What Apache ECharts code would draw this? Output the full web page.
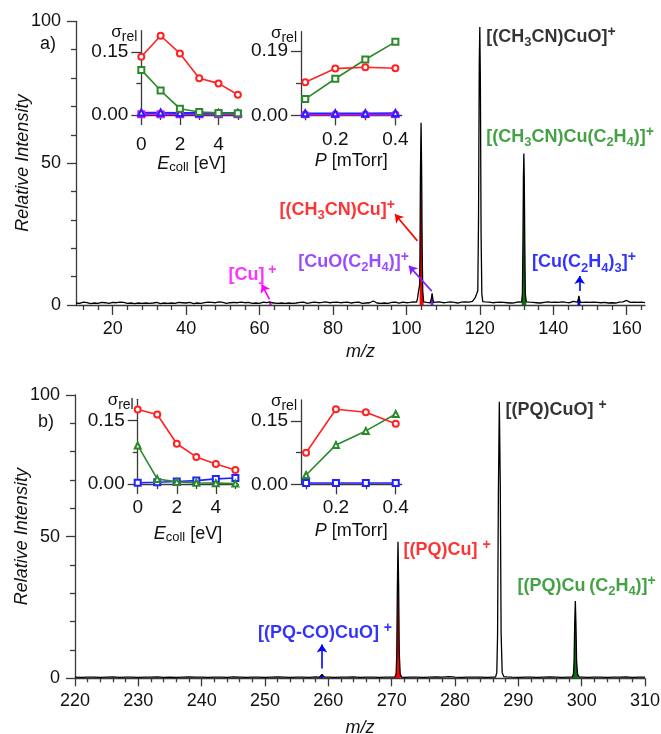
<!DOCTYPE html>
<html><head><meta charset="utf-8">
<script src="https://cdn.jsdelivr.net/npm/echarts@6/dist/echarts.min.js"></script>
<style>html,body{margin:0;padding:0;background:#fff}#c{width:661px;height:734px}</style>
</head><body><div id="c"></div>
<script>
// ================= DATA =================
// Panel a) spectrum: baseline sampled every 0.5 m/z from m/z 10
const baseStartA = 10, baseStepA = 0.5;
const baselineA = [
0.7,0.9,0.6,0.8,1.0,0.6,0.8,0.9,0.5,0.8,
0.7,1.0,0.6,0.7,0.9,0.6,0.8,1.1,0.6,0.7,
0.9,0.5,0.8,0.7,1.0,0.6,0.9,0.7,0.6,1.0,
0.7,0.8,0.5,0.9,0.7,1.1,0.6,0.8,0.7,0.9,
0.6,1.0,0.7,0.6,0.9,0.8,0.5,0.9,0.7,1.0,
0.6,0.8,0.7,1.1,0.6,0.7,0.9,0.6,0.8,1.0,
0.7,0.6,0.9,0.8,0.5,1.0,0.7,0.8,0.6,0.9,
0.8,0.6,1.0,0.7,0.9,0.5,0.8,0.7,1.1,0.6,
0.9,0.7,0.6,1.0,0.8,0.6,0.9,0.7,0.8,0.5,
1.0,0.7,0.8,0.6,0.9,1.1,0.6,0.8,0.7,0.9,
0.6,0.8,1.0,0.7,0.8,0.9,1.3,0.8,0.7,0.9,
0.6,0.8,0.7,1.0,0.6,0.9,0.7,0.8,0.6,1.0,
0.7,0.8,0.9,0.6,1.0,0.7,0.6,0.9,0.8,0.7,
1.0,0.6,0.8,0.7,0.9,0.6,1.1,0.7,0.8,0.6,
0.9,0.7,1.0,0.6,0.8,0.7,0.9,0.6,1.0,0.8,
0.7,0.6,0.9,0.8,1.0,0.7,0.6,0.9,0.7,1.1,
0.8,1.0,1.4,0.9,0.7,0.8,0.6,0.9,0.7,1.0,
0.6,0.8,0.9,0.7,1.0,0.8,0.7,0.9,1.0,1.1,
0.8,1.0,0.9,1.2,1.1,1.0,0.9,0.9,0.9,0.9,
1.0,0.9,1.1,0.8,1.0,0.9,1.0,0.8,1.1,0.9,
0.8,1.0,0.9,0.7,1.1,0.8,0.9,1.0,0.7,0.9,
1.0,0.8,1.1,0.9,1.0,1.2,1.3,1.5,1.0,1.0,
1.0,1.0,0.9,1.1,0.8,1.0,0.9,0.8,1.1,0.9,
0.8,1.0,0.7,0.9,1.1,0.8,0.9,0.7,1.0,0.8,
0.9,1.1,1.0,1.0,1.0,1.0,0.9,1.0,0.8,0.9,
1.0,0.8,0.9,0.7,1.0,0.9,0.8,1.1,0.7,0.9,
0.8,1.0,0.7,0.9,0.8,1.1,0.7,0.9,1.0,0.8,
1.2,1.3,0.9,1.0,1.0,1.0,0.9,0.8,1.0,0.7,
0.9,0.8,1.0,0.7,0.9,1.1,0.8,0.7,0.9,1.0,
0.7,0.9,0.8,1.0,0.7,0.9,1.0,0.8,1.1,0.9,
1.6,1.2,0.9,0.8,1.0,0.7,0.9,0.8,1.0,0.7,
0.8];
// Panel a) peaks [m/z, relative intensity]
const peakCu63   = [[62.6,0.8],[62.85,1.1],[63,1.5],[63.15,1.1],[63.4,0.8]];
const shoulder103 = [[102.8,1.0],[103.05,2.5],[103.3,4.8],[103.5,5.2]];
const peak104    = [[103.6,7],[103.7,18],[103.82,45],[104,64.2],[104.15,48],[104.3,20],[104.45,5],[104.7,1.1]];
const peak107    = [[106.6,0.9],[106.8,2.2],[107,4.1],[107.2,2.2],[107.4,0.9]];
const shoulder119 = [[118.4,1.1],[118.7,2.5],[119,3.4],[119.25,3.6]];
const peak120    = [[119.45,5],[119.65,30],[119.85,85],[120,98],[120.15,80],[120.35,25],[120.55,4],[120.8,1.2]];
const peak132    = [[131.4,1.0],[131.6,4],[131.75,22],[131.88,45],[132,53.4],[132.12,44],[132.25,22],[132.4,4],[132.65,1.1]];
const peak147    = [[146.6,0.9],[146.8,1.8],[147,3.2],[147.2,1.8],[147.4,0.9]];

// Panel b) spectrum: baseline every 1 m/z from m/z 220
const baseStartB = 220, baseStepB = 1;
const baselineB = [
0.4,0.3,0.4,0.4,0.3,0.4,0.5,0.3,0.4,0.4,
0.3,0.4,0.4,0.5,0.3,0.4,0.3,0.4,0.5,0.4,
0.4,0.3,0.4,0.4,0.3,0.5,0.4,0.3,0.4,0.4,
0.3,0.4,0.5,0.4,0.3,0.4,0.4,0.3,0.5,0.4,
0.4,0.3,0.4,0.4,0.5,0.3,0.4,0.4,0.3,0.4,
0.4,0.4,0.3,0.4,0.4,0.3,0.4,0.5,0.4,0.6,
0.4,0.3,0.4,0.4,0.4,0.3,0.4,0.5,0.6,0.4,
0.3,0.4,0.4,0.3,0.4,0.5,0.4,0.3,0.4,0.4,
0.4,0.3,0.4,0.4,0.3,0.4,0.4,0.5,0.3,0.4,
0.4];
const peak259 = [[258.6,0.4],[258.85,0.9],[259,1.4],[259.15,0.9],[259.4,0.4]];
const peak271 = [[270.5,0.4],[270.7,1.5],[270.8,8],[270.9,32],[271,48.2],[271.1,33],[271.2,9],[271.35,1.5],[271.6,0.4]];
const peak283 = [[282.7,0.4],[283,0.8],[283.3,0.4]];
const peak287 = [[286.4,0.4],[286.6,2],[286.72,15],[286.85,65],[287,97.6],[287.15,68],[287.28,16],[287.45,2],[287.7,0.6],[287.9,0.9],[288.2,0.5]];
const peak299 = [[298.5,0.4],[298.7,1.5],[298.8,6],[298.9,19],[299,27.3],[299.1,19],[299.2,6],[299.35,1.5],[299.6,0.4]];

// Insets: sigma_rel vs collision energy / pressure
const eColl = [0,1,2,3,4,5];
const pressure = [0.1,0.2,0.3,0.4];
const a1Red     = [0.138,0.188,0.146,0.087,0.075,0.048];
const a1Green   = [0.107,0.058,0.015,0.007,0.005,0.004];
const a1Blue    = [0.006,0.006,0.005,0.005,0.005,0.005];
const a1Violet  = [0.004,0.004,0.003,0.003,0.003,0.003];
const a1Magenta = [0.002,0.002,0.002,0.002,0.002,0.002];
const a2Red     = [0.0975,0.138,0.142,0.139];
const a2Green   = [0.048,0.108,0.165,0.217];
const a2Blue    = [0.006,0.006,0.006,0.007];
const a2Violet  = [0.004,0.004,0.004,0.004];
const a2Magenta = [0.002,0.002,0.002,0.002];
const b1Red     = [0.176,0.164,0.095,0.064,0.047,0.033];
const b1Green   = [0.091,0.012,0.005,0.003,0.002,0.001];
const b1Blue    = [0.003,0.004,0.006,0.008,0.012,0.014];
const b2Red     = [0.0745,0.177,0.170,0.143];
const b2Green   = [0.022,0.093,0.126,0.166];
const b2Blue    = [0.003,0.003,0.003,0.003];

// Tick labels
const topXLabels = [20,40,60,80,100,120,140,160];
const eLabels = [0,2,4];
const pLabels = [0.2,0.4];
const aSigLabels = [0,0.15];
const a2SigLabels = [0,0.19];
const bSigLabels = [0,0.15];

// ================= BUILD =================
const FF = '"Liberation Sans", Arial, Helvetica, sans-serif';
const AX = '#3a3a3a';
const RED = '#ff0000', GREEN = '#178a17', GFILL = '#0c6e0c', BLUE = '#0000ff', VIOLET = '#7f1fff', MAGENTA = '#ff00ff';

function buildTrace(start, step, base, peaks) {
  const pts = [];
  base.forEach((v, i) => {
    const x = +(start + i * step).toFixed(3);
    if (!peaks.some(p => x >= p[0][0] && x <= p[p.length - 1][0])) pts.push([x, v]);
  });
  peaks.forEach(p => p.forEach(q => pts.push(q)));
  pts.sort((a, b) => a[0] - b[0]);
  return pts;
}
const traceA = buildTrace(baseStartA, baseStepA, baselineA, [peakCu63, shoulder103, peak104, peak107, shoulder119, peak120, peak132, peak147]);
const traceB = buildTrace(baseStartB, baseStepB, baselineB, [peak259, peak271, peak283, peak287, peak299]);

const topMinor = [];
for (let v = 12; v <= 164; v += 4) if (v % 20 !== 0) topMinor.push(v);

const lineS = {color: AX, width: 1.3};
function xAx(o) {
  return Object.assign({type: 'value', position: 'bottom', splitLine: {show: false}, nameMoveOverlap: false,
    axisLine: {show: true, onZero: false, lineStyle: lineS}}, o);
}
function yAx(o) {
  return Object.assign({type: 'value', position: 'left', splitLine: {show: false}, nameMoveOverlap: false,
    axisLine: {show: true, onZero: false, lineStyle: lineS}}, o);
}
function minorX(grid, min, max, vals, len) {
  return xAx({gridIndex: grid, min, max, axisLine: {show: false, onZero: false},
    axisLabel: {show: false}, axisTick: {show: true, customValues: vals, length: len, lineStyle: lineS}});
}
function minorY(grid, min, max, vals, len) {
  return yAx({gridIndex: grid, min, max, axisLine: {show: false, onZero: false},
    axisLabel: {show: false}, axisTick: {show: true, customValues: vals, length: len, lineStyle: lineS}});
}
const tickLbl = (o) => Object.assign({color: '#111', fontFamily: FF, fontSize: 18}, o);
const fix2 = v => (+v).toFixed(2);

function insetX(grid, min, max, majors, minors, labelVals, margin, nameRich, gap) {
  return [
    xAx({gridIndex: grid, min, max,
      axisTick: {show: true, customValues: majors, length: 10, lineStyle: lineS},
      axisLabel: tickLbl({customValues: labelVals, margin, fontSize: 19}),
      name: nameRich, nameLocation: 'middle', nameGap: gap,
      nameTextStyle: {color: '#111', fontFamily: FF, fontSize: 18,
        rich: {i: {fontStyle: 'italic', fontSize: 18, fontFamily: FF, color: '#111', lineHeight: 20},
               c: {fontSize: 13, fontFamily: FF, color: '#111', lineHeight: 13, verticalAlign: 'bottom'},
               n: {fontSize: 18, fontFamily: FF, color: '#111', lineHeight: 20}}}}),
    minorX(grid, min, max, minors, 5)
  ];
}
function insetY(grid, max, labels, minorVal) {
  return [
    yAx({gridIndex: grid, min: 0, max,
      axisTick: {show: true, customValues: labels, length: 10, lineStyle: lineS},
      axisLabel: tickLbl({customValues: labels, margin: 13, fontSize: 19, formatter: fix2}),
      name: '{g|σ}{r|rel}', nameLocation: 'end', nameGap: -3,
      nameTextStyle: {align: 'right', verticalAlign: 'middle', padding: [0, 4, 0, 0],
        rich: {g: {fontSize: 17, fontFamily: FF, color: '#111', lineHeight: 20, verticalAlign: 'top'},
               r: {fontSize: 14, fontFamily: FF, color: '#111', lineHeight: 14, verticalAlign: 'bottom'}}}}),
    minorY(grid, 0, max, [minorVal], 5)
  ];
}

const xAxes = [
  // 0,1 top main
  xAx({gridIndex: 0, min: 10, max: 165,
    axisTick: {show: true, customValues: topXLabels, length: 10, lineStyle: lineS},
    axisLabel: tickLbl({customValues: topXLabels, margin: 15}),
    name: 'm/z', nameLocation: 'middle', nameGap: 38,
    nameTextStyle: {fontStyle: 'italic', fontFamily: FF, fontSize: 18, color: '#111'}}),
  minorX(0, 10, 165, topMinor, 5),
  // 2 bottom main
  xAx({gridIndex: 1, min: 220, max: 310, interval: 10,
    axisTick: {show: true, length: 8, lineStyle: lineS},
    minorTick: {show: true, splitNumber: 5, length: 4, lineStyle: lineS},
    axisLabel: tickLbl({margin: 14}),
    name: 'm/z', nameLocation: 'middle', nameGap: 41,
    nameTextStyle: {fontStyle: 'italic', fontFamily: FF, fontSize: 18, color: '#111'}}),
  // 3,4 a1
  ...insetX(2, 0, 5.2, eLabels, [1,3,5], eLabels, 20, '{i|E}{c|coll}{n| [eV]}', 39),
  // 5,6 a2
  ...insetX(3, 0.086, 0.421, pLabels, [0.1,0.3], pLabels, 15, '{i|P}{n| [mTorr]}', 36),
  // 7,8 b1
  ...insetX(4, 0, 5.15, eLabels, [1,3,5], eLabels, 14, '{i|E}{c|coll}{n| [eV]}', 40),
  // 9,10 b2
  ...insetX(5, 0.083, 0.42, pLabels, [0.1,0.3], pLabels, 14, '{i|P}{n| [mTorr]}', 37),
];

function mainY(grid) {
  return yAx({gridIndex: grid, min: 0, max: 100, interval: 50,
    axisTick: {show: true, length: 9, lineStyle: lineS},
    minorTick: {show: true, splitNumber: 5, length: 5, lineStyle: lineS},
    axisLabel: tickLbl({margin: 15}),
    name: 'Relative Intensity', nameLocation: 'middle', nameGap: 44, nameRotate: 90,
    nameTextStyle: {fontStyle: 'italic', fontFamily: FF, fontSize: 18, color: '#111'}});
}
const yAxes = [
  mainY(0), mainY(1),
  ...insetY(2, 0.2, aSigLabels, 0.075),     // 2,3
  ...insetY(3, 0.247, a2SigLabels, 0.095),  // 4,5
  ...insetY(4, 0.2, bSigLabels, 0.075),     // 6,7
  ...insetY(5, 0.199, bSigLabels, 0.075),   // 8,9
];

const grids = [
  {left: 76, top: 21.3, width: 569, height: 283.7},
  {left: 75, top: 395, width: 570, height: 283.3},
  {left: 141.3, top: 30.7, width: 100.4, height: 84.3},
  {left: 301, top: 31.7, width: 100.7, height: 83.6},
  {left: 137.7, top: 399.3, width: 100.6, height: 84.7},
  {left: 301, top: 400, width: 100.7, height: 84.3},
].map(g => Object.assign({outerBoundsMode: 'none', containLabel: false}, g));

const series = [];
function fill(grid, data, color) {
  series.push({type: 'line', xAxisIndex: grid === 0 ? 0 : 2, yAxisIndex: grid, data,
    symbol: 'none', lineStyle: {opacity: 0, width: 0}, areaStyle: {color, opacity: 1},
    z: 1, silent: true, animation: false});
}
fill(0, peakCu63, MAGENTA); fill(0, peak104, RED); fill(0, peak107, VIOLET);
fill(0, peak132, GFILL); fill(0, peak147, BLUE);
fill(1, peak259, BLUE); fill(1, peak271, RED); fill(1, peak299, GFILL);
series.push({type: 'line', xAxisIndex: 0, yAxisIndex: 0, data: traceA, symbol: 'none',
  lineStyle: {color: '#000', width: 1.3}, z: 3, silent: true, animation: false});
series.push({type: 'line', xAxisIndex: 2, yAxisIndex: 1, data: traceB, symbol: 'none',
  lineStyle: {color: '#000', width: 1.3}, z: 3, silent: true, animation: false});

function richFor(color) {
  return {
    s: {fontSize: 13, lineHeight: 12, verticalAlign: 'bottom', fontWeight: 'bold', fontFamily: FF, color},
    p: {fontSize: 14, lineHeight: 12, verticalAlign: 'top', fontWeight: 'bold', fontFamily: FF, color},
  };
}
function ann(text, at, color) {
  return {value: at, label: {show: true, position: 'right', distance: 0, formatter: text,
    color, fontFamily: FF, fontSize: 18, fontWeight: 'bold', lineHeight: 24, rich: richFor(color)}};
}
function arrow(from, to, color) {
  return [{coord: from, lineStyle: {color, width: 1.6, type: 'solid'}, itemStyle: {color}},
          {coord: to, itemStyle: {color}}];
}
const annA = [
  ann('[(CH{s|3}CN)CuO]{p|+}', [121.6, 94.5], '#000'),
  ann('[(CH{s|3}CN)Cu(C{s|2}H{s|4})]{p|+}', [121.6, 59.1], GREEN),
  ann('[(CH{s|3}CN)Cu]{p|+}', [65.3, 33.6], RED),
  ann('[CuO(C{s|2}H{s|4})]{p|+}', [70.4, 15.2], VIOLET),
  ann('[Cu]{p| +}', [51.4, 10.5], MAGENTA),
  ann('[Cu(C{s|2}H{s|4}){s|3}]{p|+}', [134.1, 15], BLUE),
];
const arrowsA = [
  arrow([62.7, 2.0], [60.6, 7.3], MAGENTA),
  arrow([106.9, 4.9], [100.7, 13.8], VIOLET),
  arrow([103.0, 22.6], [96.9, 32], RED),
  arrow([147.2, 4.9], [147.2, 10.2], BLUE),
];
const annB = [
  ann('[(PQ)CuO] {p|+}', [287.9, 94.6], '#000'),
  ann('[(PQ)Cu] {p|+}', [271.8, 45.2], RED),
  ann('[(PQ)Cu\u2009(C{s|2}H{s|4})]{p|+}', [289.8, 32.6], GREEN),
  ann('[(PQ-CO)CuO] {p|+}', [248.8, 15.9], BLUE),
];
const arrowsB = [ arrow([259.0, 3.5], [259.0, 11.9], BLUE) ];

function annSeries(xi, yi, data, arrows) {
  series.push({type: 'scatter', xAxisIndex: xi, yAxisIndex: yi, data, symbolSize: 1,
    itemStyle: {color: 'transparent'}, z: 5, silent: true, animation: false,
    markLine: {silent: true, animation: false, symbol: ['none', 'arrow'], symbolSize: 8,
      label: {show: false}, data: arrows}});
}
annSeries(0, 0, annA, arrowsA);
annSeries(2, 1, annB, arrowsB);

function insetLine(xi, yi, xs, ys, color, symbol, z) {
  series.push({type: 'line', xAxisIndex: xi, yAxisIndex: yi, data: xs.map((x, i) => [x, ys[i]]),
    symbol, symbolSize: 6, itemStyle: {color, borderWidth: 1.1}, lineStyle: {color, width: 1.6},
    z, clip: false, silent: true, animation: false});
}
const IR = '#ff2222', IG = '#2a8a2a', IB = '#2222ff';
insetLine(3, 2, eColl, a1Magenta, MAGENTA, 'emptyRect', 4);
insetLine(3, 2, eColl, a1Violet, VIOLET, 'emptyTriangle', 4);
insetLine(3, 2, eColl, a1Blue, IB, 'emptyTriangle', 4);
insetLine(3, 2, eColl, a1Green, IG, 'emptyRect', 5);
insetLine(3, 2, eColl, a1Red, IR, 'emptyCircle', 6);
insetLine(5, 4, pressure, a2Magenta, MAGENTA, 'emptyCircle', 4);
insetLine(5, 4, pressure, a2Violet, VIOLET, 'emptyTriangle', 4);
insetLine(5, 4, pressure, a2Blue, IB, 'emptyTriangle', 4);
insetLine(5, 4, pressure, a2Green, IG, 'emptyRect', 5);
insetLine(5, 4, pressure, a2Red, IR, 'emptyCircle', 6);
insetLine(7, 6, eColl, b1Blue, IB, 'emptyRect', 4);
insetLine(7, 6, eColl, b1Green, IG, 'emptyTriangle', 5);
insetLine(7, 6, eColl, b1Red, IR, 'emptyCircle', 6);
insetLine(9, 8, pressure, b2Blue, IB, 'emptyRect', 4);
insetLine(9, 8, pressure, b2Green, IG, 'emptyTriangle', 5);
insetLine(9, 8, pressure, b2Red, IR, 'emptyCircle', 6);

const chart = echarts.init(document.getElementById('c'), null, {renderer: 'canvas', width: 661, height: 734});
chart.setOption({
  backgroundColor: '#fff',
  animation: false,
  grid: grids,
  xAxis: xAxes,
  yAxis: yAxes,
  series,
  graphic: [
    {type: 'text', left: 40, top: 35, style: {text: 'a)', font: '18px ' + FF, fill: '#111'}},
    {type: 'text', left: 38, top: 413, style: {text: 'b)', font: '18px ' + FF, fill: '#111'}},
  ],
});
</script></body></html>
